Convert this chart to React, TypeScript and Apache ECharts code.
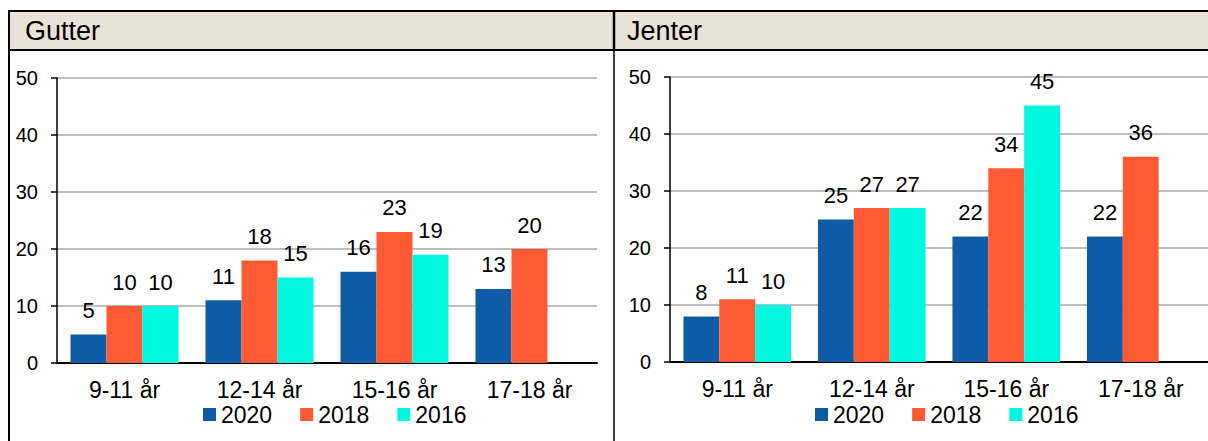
import React, { useEffect, useRef } from "react";
import * as echarts from "echarts";

const categories = ["9-11 år", "12-14 år", "15-16 år", "17-18 år"];
const seriesNames = ["2020", "2018", "2016"];
const gutter2020 = [5, 11, 16, 13];
const gutter2018 = [10, 18, 23, 20];
const gutter2016 = [10, 15, 19, null];
const jenter2020 = [8, 25, 22, 22];
const jenter2018 = [11, 27, 34, 36];
const jenter2016 = [10, 27, 45, null];
const panelTitles = ["Gutter", "Jenter"];
const colors = ["#0E5CA6", "#FF5A33", "#00F8E1"];

const FONT = "'Liberation Sans', Arial, sans-serif";

export default function App() {
  const ref = useRef<HTMLDivElement>(null);
  useEffect(() => {
    if (!ref.current) return;
    const chart = echarts.init(ref.current, undefined, { renderer: "svg" });
    const grids = [
      { left: 57, right: 1208 - 597, top: 78, bottom: 441 - 363 },
      { left: 670, right: 1208 - 1211, top: 77, bottom: 441 - 362 },
    ];
    const yAxis = grids.map((_, i) => ({
      type: "value",
      gridIndex: i,
      min: 0,
      max: 50,
      interval: 10,
      axisLine: { show: true, lineStyle: { color: "#000", width: 1.5 } },
      axisTick: { show: true, inside: false, length: 6, lineStyle: { color: "#000", width: 1.5 } },
      axisLabel: { color: "#000", fontSize: 20, fontFamily: FONT, margin: 19 },
      splitLine: { show: true, lineStyle: { color: "#BDBDBD", width: 2 } },
    }));
    const xAxis = grids.map((_, i) => ({
      type: "category",
      gridIndex: i,
      data: categories,
      axisLine: { show: true, lineStyle: { color: "#000", width: 2 } },
      axisTick: { show: false },
      axisLabel: { color: "#000", fontSize: 23, fontFamily: FONT, margin: 15 },
    }));
    const data = [
      [gutter2020, gutter2018, gutter2016],
      [jenter2020, jenter2018, jenter2016],
    ];
    const series: any[] = [];
    data.forEach((panel, gi) => {
      panel.forEach((vals, si) => {
        series.push({
          type: "bar",
          name: seriesNames[si],
          xAxisIndex: gi,
          yAxisIndex: gi,
          data: vals,
          barGap: "0%",
          barCategoryGap: "20%",
          itemStyle: { color: colors[si] },
          label: {
            show: true,
            position: "top",
            distance: 13,
            color: "#000",
            fontSize: 22,
            fontFamily: FONT,
          },
        });
      });
    });
    const legendCommon = {
      orient: "horizontal",
      top: 398,
      itemWidth: 13,
      itemHeight: 13,
      itemGap: 28,
      icon: "rect",
      selectedMode: false,
      textStyle: { color: "#000", fontSize: 23, fontFamily: FONT },
      data: seriesNames,
    };
    const line = (x1: number, y1: number, x2: number, y2: number, w: number) => ({
      type: "line",
      shape: { x1, y1, x2, y2 },
      style: { stroke: "#000", lineWidth: w },
      z: 10,
    });
    chart.setOption({
      animation: false,
      grid: grids,
      xAxis,
      yAxis,
      series,
      legend: [
        { ...legendCommon, left: 198 },
        { ...legendCommon, left: 810 },
      ],
      graphic: [
        {
          type: "rect",
          shape: { x: 9, y: 11, width: 1199, height: 39 },
          style: { fill: "#E8E2D8" },
          z: 1,
        },
        line(8, 11, 1208, 11, 2),
        line(8, 50, 1208, 50, 2),
        line(9, 10, 9, 441, 2),
        line(614, 10, 614, 51, 2.5),
        line(614, 51, 614, 441, 1.5),
        {
          type: "text",
          x: 25,
          y: 31,
          style: { text: panelTitles[0], fill: "#000", font: `27px ${FONT}`, textVerticalAlign: "middle" },
          z: 11,
        },
        {
          type: "text",
          x: 627,
          y: 31,
          style: { text: panelTitles[1], fill: "#000", font: `27px ${FONT}`, textVerticalAlign: "middle" },
          z: 11,
        },
      ],
    });
    return () => chart.dispose();
  }, []);
  return (
    <div
      ref={ref}
      style={{ position: "absolute", left: 0, top: 0, width: 1208, height: 441, background: "#fff" }}
    />
  );
}
